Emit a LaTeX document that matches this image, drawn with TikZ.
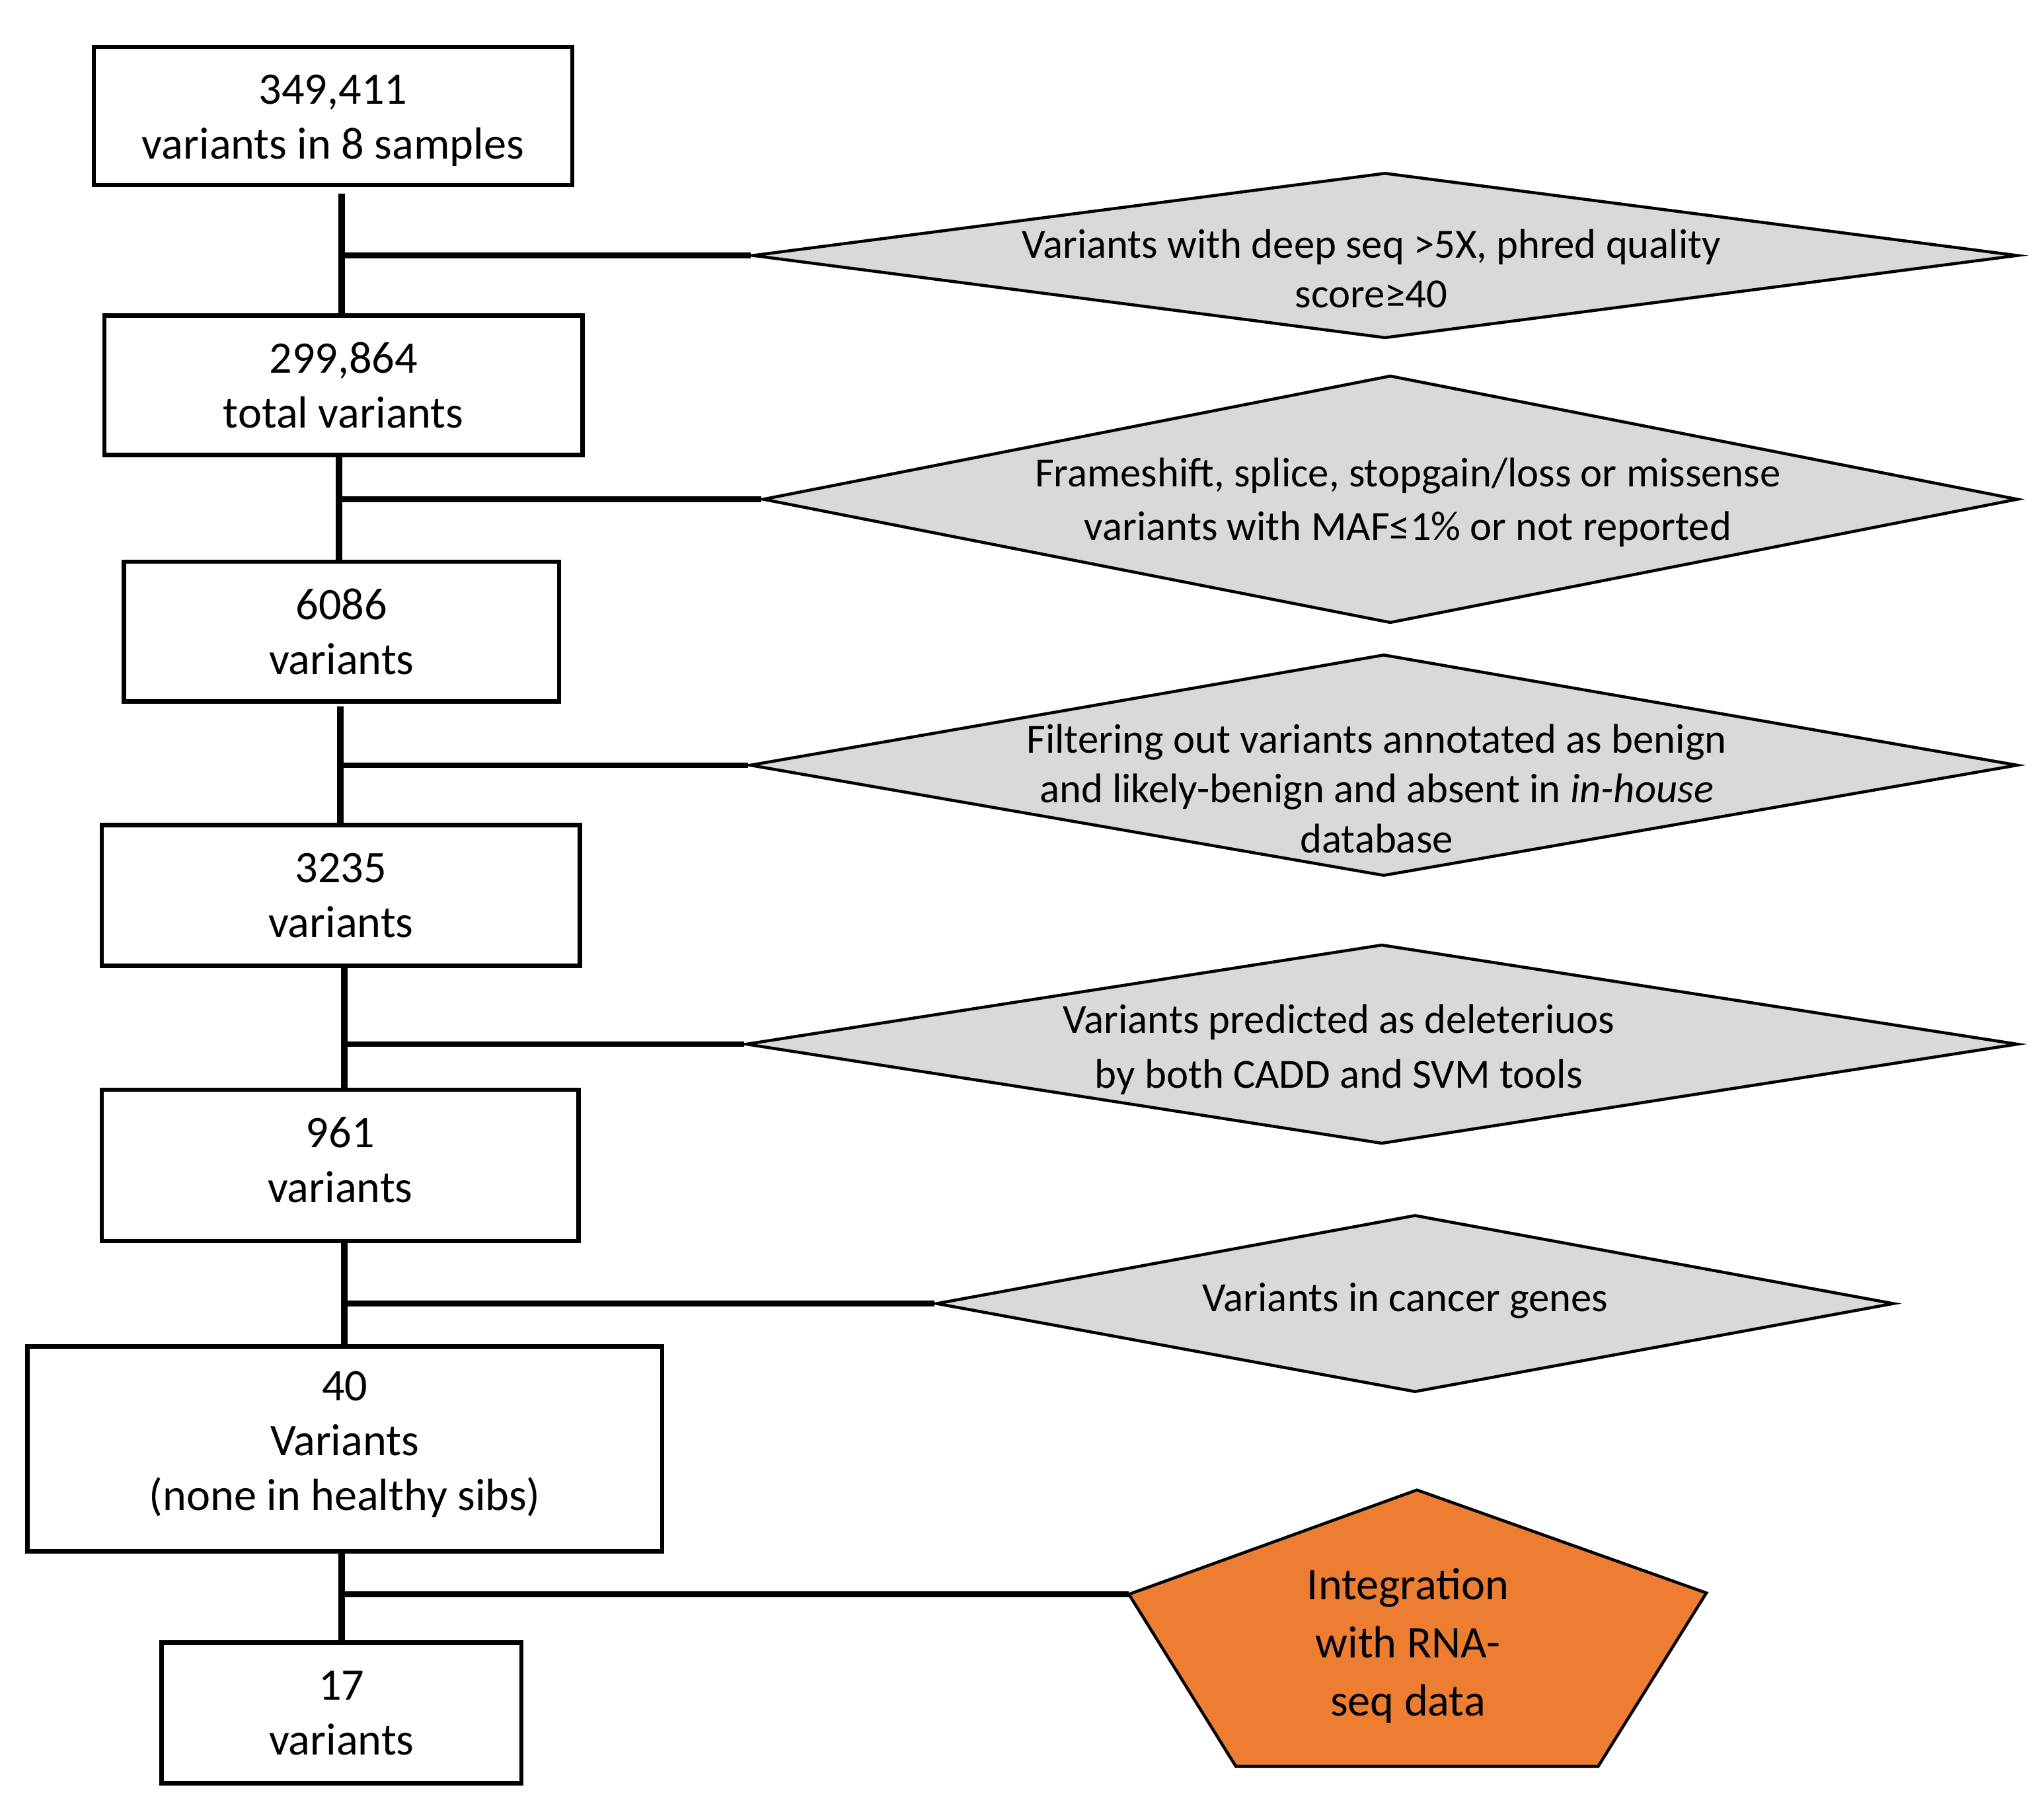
\documentclass[tikz,border=0pt]{standalone}
\usepackage{fontspec}
\setmainfont{Carlito}
\usetikzlibrary{shapes.geometric}
\definecolor{dgray}{HTML}{D9D9D9}
\definecolor{orng}{HTML}{ED7D31}
\newcommand\FirstLineRule[1]{\rule{0pt}{#1}}
\newcommand\LastLineRule[1]{\rule[-#1]{0pt}{#1}}
\begin{document}
\begin{tikzpicture}[x=0.02cm,y=-0.02cm,
  box/.style={draw, line width=1.9pt, fill=white, inner sep=0pt, align=center,
    font=\fontsize{19.7}{23.9}\selectfont},
  filt/.style={draw, line width=1.3pt, fill=dgray, shape=diamond, inner sep=0pt},
  ftext/.style={align=center, inner sep=0pt, font=\fontsize{18.1}{21.8}\selectfont},
  trunk/.style={line width=2.9pt},
  branch/.style={line width=2.4pt}]
\useasboundingbox (0,0) rectangle (1568,1391.1);
% boxes
\node[box, minimum width=7.34cm, minimum height=2.12cm] (b1) at (255.5,89) {\FirstLineRule{16.8pt}349,411\\variants in 8 samples};
\node[box, minimum width=7.34cm, minimum height=2.14cm] (b2) at (263.5,295.5) {299,864\\total variants};
\node[box, minimum width=6.68cm, minimum height=2.14cm] (b3) at (262,484.5) {6086\\variants};
\node[box, minimum width=7.34cm, minimum height=2.16cm] (b4) at (261.5,687) {3235\\variants};
\node[box, minimum width=7.32cm, minimum height=2.32cm] (b5) at (261,894) {961\\variants\LastLineRule{5pt}};
\node[box, minimum width=9.74cm, minimum height=3.14cm] (b6) at (264.5,1111.5) {40\\Variants\\(none in healthy sibs)\LastLineRule{7.1pt}};
\node[box, minimum width=5.52cm, minimum height=2.16cm] (b7) at (262,1314) {17\\variants};
% junctions
\coordinate (j1) at (262,196);
\coordinate (j2) at (260,383);
\coordinate (j3) at (261,587);
\coordinate (j4) at (264,801);
\coordinate (j5) at (264,1000);
\coordinate (j6) at (262,1223);
% diamonds
\node[filt, minimum width=19.42cm, minimum height=2.54cm] (d1) at (1062.5,196) {};
\node[filt, minimum width=19.26cm, minimum height=3.8cm] (d2) at (1066.5,383) {};
\node[filt, minimum width=19.46cm, minimum height=3.4cm] (d3) at (1061.5,587) {};
\node[filt, minimum width=19.52cm, minimum height=3.06cm] (d4) at (1060,801) {};
\node[filt, minimum width=14.7cm, minimum height=2.72cm] (d5) at (1085.5,1000) {};
% pentagon
\coordinate (p1) at (1087,1143);
\coordinate (p2) at (1309,1222);
\coordinate (p3) at (1226,1355);
\coordinate (p4) at (948,1355);
\coordinate (p5) at (866,1223);
\draw[fill=orng, line width=1.3pt, line join=miter] (p1) -- (p2) -- (p3) -- (p4) -- (p5) -- cycle;
% trunk
\draw[trunk, shorten <=0.1cm] (b1.south -| j1) -- (b2.north -| j1);
\draw[trunk] (b2.south -| j2) -- (b3.north -| j2);
\draw[trunk, shorten <=0.05cm] (b3.south -| j3) -- (b4.north -| j3);
\draw[trunk] (b4.south -| j4) -- (b5.north -| j4);
\draw[trunk] (b5.south -| j5) -- (b6.north -| j5);
\draw[trunk] (b6.south -| j6) -- (b7.north -| j6);
% branches
\draw[branch] (j1) -- (d1.west);
\draw[branch] (j2) -- (d2.west);
\draw[branch] (j3) -- (d3.west);
\draw[branch] (j4) -- (d4.west);
\draw[branch] (j5) -- (d5.west);
\draw[branch] (j6) -- (p5);
% texts
\node[ftext] (t1) at (1052,206) {Variants with deep seq >5X, phred quality\\score≥40};
\node[ftext, font=\fontsize{18.1}{23.3}\selectfont] (t2) at (1080,385.5) {Frameshift, splice, stopgain/loss or missense\\variants with MAF≤1\% or not reported};
\node[ftext] (t3) at (1056,605) {Filtering out variants annotated as benign\\and likely-benign and absent in \textit{in-house}\\database};
\node[ftext, font=\fontsize{18.1}{23.9}\selectfont] (t4) at (1027,805) {Variants predicted as deleteriuos\\by both CADD and SVM tools};
\node[ftext] (t5) at (1078,998) {Variants in cancer genes};
\node[align=center, inner sep=0pt, font=\fontsize{19.7}{25.5}\selectfont] (pt) at (1080,1262.5) {Integration\\with RNA-\\seq data};
\end{tikzpicture}
\end{document}
